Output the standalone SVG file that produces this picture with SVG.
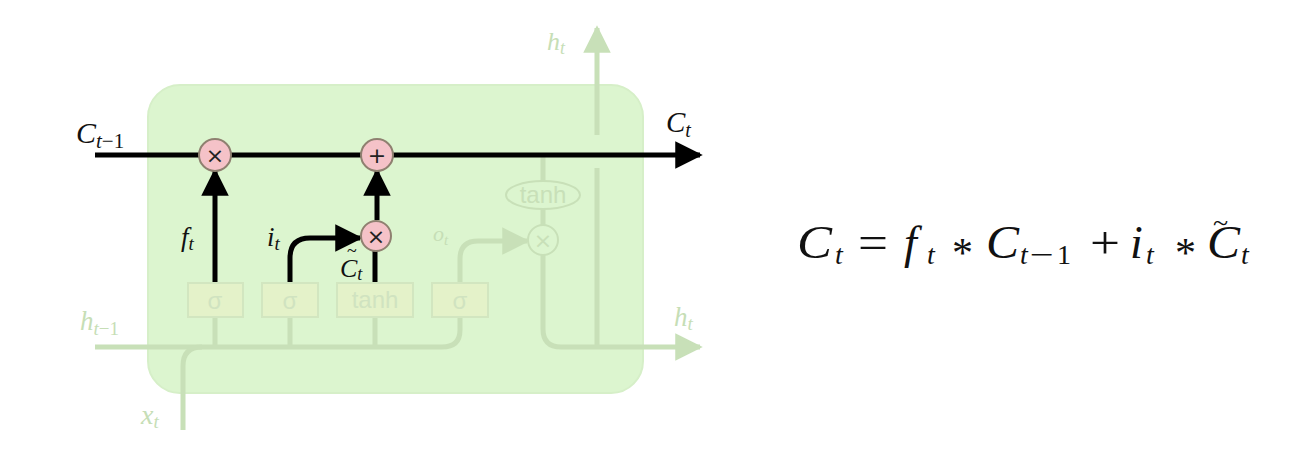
<svg xmlns="http://www.w3.org/2000/svg" width="1295" height="464" viewBox="0 0 1295 464">
<defs>
<style>
.m{font-family:"Liberation Serif",serif;font-style:italic}
.n{font-family:"Liberation Serif",serif;font-style:normal}
.blk{fill:#111}
.fd{fill:#c6deb6}
.fl{fill:none;stroke:#c8e0b8;stroke-width:5;stroke-linecap:butt}
.bl{fill:none;stroke:#000;stroke-width:5}
.gate{fill:#e4f2c9;stroke:#d2e6c0;stroke-width:2}
.gl{font-family:"Liberation Sans",sans-serif;font-size:24px;fill:#d0e3c0;text-anchor:middle}
.pc{fill:#f5c2c8;stroke:#8f8070;stroke-width:2}
.op{font-family:"DejaVu Sans",sans-serif;font-size:22px;fill:#222;text-anchor:middle}
</style>
<marker id="ab" viewBox="0 0 10 10" refX="9" refY="5" markerWidth="5.5" markerHeight="6" markerUnits="strokeWidth" orient="auto"><path d="M0,0 L10,5 L0,10 z" fill="#000"/></marker>
<marker id="af" viewBox="0 0 10 10" refX="9" refY="5" markerWidth="5.5" markerHeight="6" markerUnits="strokeWidth" orient="auto"><path d="M0,0 L10,5 L0,10 z" fill="#c8e0b8"/></marker>
</defs>
<rect width="1295" height="464" fill="#fff"/>
<g id="cell"><rect x="148" y="85" width="495" height="308" rx="32" fill="#dcf5cf" stroke="#d6efc8" stroke-width="2"/></g>
<g id="connectors">
<path class="fl" d="M95,347 H442 Q460,347 460,330 V317"/>
<path class="fl" d="M183,430 V366 Q183,347 202,347"/>
<path class="fl" d="M215,347 V317 M290,347 V317 M375,347 V317"/>
<path class="fl" d="M460,283 V259 Q460,241 478,241 H527" marker-end="url(#af)"/>
<path class="fl" d="M543,155 V181 M543,209 V225"/>
<path class="fl" d="M543,255 V329 Q543,347 561,347 H700" marker-end="url(#af)"/>
<path class="fl" d="M597,347 V168 M597,135 V28" marker-end="url(#af)"/>
<path class="bl" d="M95,155 H700" marker-end="url(#ab)"/>
<path class="bl" d="M215,283 V171" marker-end="url(#ab)"/>
<path class="bl" d="M290,283 V258 Q290,238 310,238 H360" marker-end="url(#ab)"/>
<path class="bl" d="M375,283 V251"/>
<path class="bl" d="M377,220 V171" marker-end="url(#ab)"/>
</g>
<g id="gate-f"><rect class="gate" x="188" y="283" width="55" height="34"/><text class="gl" x="215" y="309">σ</text></g>
<g id="gate-i"><rect class="gate" x="262" y="283" width="56" height="34"/><text class="gl" x="290" y="309">σ</text></g>
<g id="gate-c"><rect class="gate" x="337" y="283" width="76" height="34"/><text class="gl" x="375" y="308" font-size="21">tanh</text></g>
<g id="gate-o"><rect class="gate" x="432" y="283" width="56" height="34"/><text class="gl" x="460" y="309">σ</text></g>
<g id="tanh-out"><ellipse cx="543" cy="195" rx="37" ry="14" fill="#dcf5cf" stroke="#c8e0b8" stroke-width="2"/><text class="gl" x="543" y="203" font-size="21" style="fill:#c8e0b8">tanh</text></g>
<g id="mul-out"><circle cx="543" cy="240" r="15" fill="#dcf5cf" stroke="#c8e0b8" stroke-width="2"/><text class="op" x="543" y="248" style="fill:#c8e0b8">×</text></g>
<g id="mul-f"><circle class="pc" cx="215" cy="155" r="16"/><text class="op" x="215" y="163">×</text></g>
<g id="add"><circle class="pc" cx="377" cy="155" r="16"/><text class="op" x="377" y="163">+</text></g>
<g id="mul-i"><circle class="pc" cx="376" cy="236" r="15"/><text class="op" x="376" y="244">×</text></g>
<g id="labels">
<text class="m blk" x="76" y="143" font-size="30">C<tspan font-size="21" dy="5">t</tspan><tspan class="n" font-size="21">−1</tspan></text>
<text class="m blk" x="666" y="132" font-size="29">C<tspan font-size="20" dy="5">t</tspan></text>
<text class="m blk" x="181" y="246" font-size="27">f<tspan font-size="19" dy="4">t</tspan></text>
<text class="m blk" x="267" y="246" font-size="27">i<tspan font-size="19" dy="4">t</tspan></text>
<text class="m blk" x="340" y="277" font-size="26">C<tspan font-size="18" dy="3">t</tspan></text>
<text class="n blk" x="347" y="257" font-size="18">~</text>
<text class="m fd" x="433" y="241" font-size="22">o<tspan font-size="15" dy="4">t</tspan></text>
<text class="m fd" x="547" y="50" font-size="26">h<tspan font-size="18" dy="4">t</tspan></text>
<text class="m fd" x="80" y="330" font-size="27">h<tspan font-size="19" dy="5">t</tspan><tspan class="n" font-size="19">−1</tspan></text>
<text class="m fd" x="674" y="326" font-size="27">h<tspan font-size="19" dy="4">t</tspan></text>
<text class="m fd" x="141" y="424" font-size="28">x<tspan font-size="19" dy="4">t</tspan></text>
</g>
<g id="equation" font-size="46">
<text class="m blk" x="797" y="258" textLength="35" lengthAdjust="spacingAndGlyphs">C</text><text class="m blk" x="835" y="264" font-size="28">t</text>
<text class="n blk" x="858" y="258" textLength="30" lengthAdjust="spacingAndGlyphs">=</text>
<text class="m blk" x="904" y="258">f</text><text class="m blk" x="927" y="264" font-size="28">t</text>
<text class="n blk" x="952" y="267" font-size="42">*</text>
<text class="m blk" x="986" y="258" textLength="33" lengthAdjust="spacingAndGlyphs">C</text><text class="m blk" x="1020" y="264" font-size="28">t</text><text class="n blk" x="1030" y="264" font-size="28" textLength="24" lengthAdjust="spacingAndGlyphs">−</text><text class="n blk" x="1057" y="264" font-size="28">1</text>
<text class="n blk" x="1090" y="258" textLength="30" lengthAdjust="spacingAndGlyphs">+</text>
<text class="m blk" x="1130" y="258">i</text><text class="m blk" x="1146" y="264" font-size="28">t</text>
<text class="n blk" x="1175" y="267" font-size="42">*</text>
<text class="m blk" x="1207" y="258" textLength="33" lengthAdjust="spacingAndGlyphs">C</text><text class="n blk" x="1213" y="232" font-size="28">~</text><text class="m blk" x="1241" y="264" font-size="28">t</text>
</g>
</svg>
